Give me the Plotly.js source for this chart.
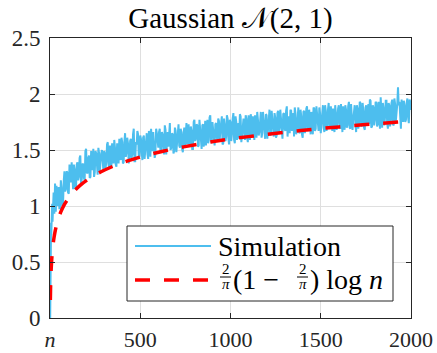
<!DOCTYPE html>
<html><head><meta charset="utf-8">
<script src="https://cdn.plot.ly/plotly-3.0.1.min.js"></script>
<style>html,body{margin:0;padding:0;background:#fff}</style>
</head><body><div id="chart" style="width:437px;height:353px"></div>
<script>
// ---- data ----
const nEarly = [1,2,3,4,5,6,7,8,10,12,14,16,18,20,24,28,32,36,40];
const simEarly = [0.00,0.42,0.55,0.78,0.62,0.85,0.74,0.92,0.80,1.02,0.86,1.08,0.90,1.12,0.93,1.20,0.95,1.18,1.00];
const nStart = 48, nStep = 8, nHalf = 4;   // regular n grid after the early points
// values at n = 48, 56, 64, ... 2000
const simValues = [
  1.17,0.98,1.16,1.01,1.31,1.15,1.30,1.11,1.26,1.39,
  1.15,1.33,1.15,1.39,1.26,1.45,1.24,1.37,1.23,1.51,
  1.29,1.45,1.26,1.40,1.51,1.30,1.47,1.28,1.47,1.42,
  1.50,1.31,1.47,1.39,1.57,1.34,1.47,1.56,1.38,1.52,
  1.35,1.51,1.60,1.41,1.57,1.39,1.65,1.48,1.56,1.42,
  1.60,1.46,1.69,1.40,1.55,1.64,1.45,1.60,1.41,1.63,
  1.51,1.65,1.42,1.60,1.69,1.49,1.58,1.46,1.65,1.52,
  1.69,1.49,1.64,1.46,1.68,1.60,1.53,1.74,1.52,1.64,
  1.49,1.67,1.58,1.73,1.52,1.66,1.48,1.70,1.64,1.55,
  1.73,1.56,1.67,1.51,1.77,1.60,1.72,1.54,1.70,1.51,
  1.73,1.65,1.54,1.77,1.59,1.81,1.56,1.68,1.54,1.74,
  1.58,1.76,1.64,1.80,1.56,1.72,1.62,1.78,1.55,1.75,
  1.64,1.83,1.56,1.75,1.70,1.60,1.80,1.63,1.78,1.59,
  1.78,1.57,1.74,1.82,1.62,1.70,1.81,1.61,1.77,1.66,
  1.84,1.65,1.74,1.60,1.81,1.69,1.86,1.64,1.78,1.62,
  1.79,1.63,1.85,1.69,1.76,1.60,1.83,1.67,1.89,1.72,
  1.65,1.85,1.73,1.62,1.83,1.69,1.88,1.65,1.80,1.61,
  1.85,1.70,1.89,1.67,1.78,1.84,1.64,1.87,1.69,1.80,
  1.67,1.83,1.74,1.90,1.66,1.85,1.71,1.92,1.69,1.81,
  1.87,1.66,1.83,1.74,1.90,1.69,1.80,1.89,1.68,1.86,
  1.72,1.93,1.69,1.83,1.77,1.90,1.66,1.87,1.74,1.92,
  1.71,1.85,1.68,1.90,1.81,1.73,1.94,1.71,1.88,1.77,
  1.92,1.73,1.85,1.97,1.70,1.87,1.79,1.94,1.69,1.90,
  1.77,1.95,1.72,1.91,1.82,2.06,1.93,1.69,1.88,1.94,
  1.75,1.92,1.79,1.95,1.86
];
// values at n = 52, 60, 68, ... 1996
const simValuesMid = [
  0.98,1.23,1.01,1.22,1.13,1.31,1.12,1.37,1.21,1.18,
  1.37,1.16,1.37,1.23,1.43,1.20,1.38,1.25,1.49,1.30,
  1.43,1.25,1.49,1.32,1.26,1.49,1.32,1.52,1.31,1.47,
  1.31,1.49,1.34,1.55,1.37,1.54,1.34,1.48,1.59,1.37,
  1.56,1.38,1.53,1.61,1.38,1.57,1.44,1.61,1.38,1.58,
  1.43,1.64,1.40,1.57,1.67,1.43,1.63,1.48,1.61,1.42,
  1.61,1.46,1.67,1.44,1.59,1.66,1.43,1.69,1.53,1.66,
  1.48,1.66,1.53,1.72,1.46,1.66,1.70,1.50,1.65,1.47,
  1.70,1.48,1.73,1.54,1.69,1.51,1.65,1.53,1.74,1.68,
  1.53,1.71,1.51,1.75,1.58,1.73,1.53,1.77,1.57,1.72,
  1.53,1.76,1.69,1.56,1.79,1.59,1.75,1.54,1.73,1.62,
  1.78,1.59,1.74,1.55,1.78,1.58,1.81,1.61,1.77,1.58,
  1.78,1.59,1.80,1.59,1.74,1.82,1.57,1.77,1.65,1.81,
  1.61,1.81,1.59,1.77,1.80,1.59,1.76,1.84,1.63,1.80,
  1.61,1.84,1.68,1.82,1.60,1.80,1.63,1.85,1.67,1.83,
  1.61,1.83,1.66,1.86,1.63,1.82,1.69,1.85,1.62,1.80,
  1.86,1.67,1.83,1.88,1.64,1.83,1.66,1.86,1.64,1.84,
  1.65,1.87,1.68,1.86,1.64,1.73,1.88,1.67,1.89,1.70,
  1.88,1.65,1.87,1.70,1.90,1.67,1.86,1.72,1.89,1.67,
  1.72,1.90,1.68,1.87,1.71,1.91,1.66,1.74,1.90,1.70,
  1.89,1.70,1.91,1.68,1.87,1.74,1.90,1.69,1.93,1.72,
  1.92,1.70,1.88,1.74,1.91,1.95,1.70,1.90,1.72,1.93,
  1.71,1.93,1.69,1.88,1.92,1.72,1.94,1.74,1.92,1.71,
  1.92,1.73,1.96,1.76,1.91,1.90,1.71,1.95,1.75,1.90,
  1.77,1.96,1.74,1.93,1.87
];
const nTheory = [2,3,4,6,8,11,15,20,27,35,45,60,80,100,130,170,220,280,350,430,520,620,740,870,1000,1150,1300,1450,1600,1800,2000];
const theoryValues = [0.160,0.254,0.321,0.414,0.481,0.555,0.626,0.693,0.762,0.822,0.880,0.947,1.014,1.065,1.126,1.188,1.247,1.303,1.355,1.403,1.447,1.487,1.528,1.566,1.598,1.630,1.659,1.684,1.706,1.734,1.758];
const xTickVals = [0,500,1000,1500,2000];
const xTickText = ['<i>n</i>','500','1000','1500','2000'];
const yTickVals = [0,0.5,1,1.5,2,2.5];
const yTickText = ['0','0.5','1','1.5','2','2.5'];
const titleText = 'Gaussian 𝒩(2, 1)';
const legendSimLabel = 'Simulation';

// ---- build ----
const nSim = nEarly.slice(), ySim = simEarly.slice();
simValues.forEach((v, i) => {
  nSim.push(nStart + i * nStep); ySim.push(v);
  if (i < simValuesMid.length) { nSim.push(nStart + i * nStep + nHalf); ySim.push(simValuesMid[i]); }
});
const FONT = 'Liberation Serif, serif';
const BLUE = '#4DBEEE', RED = '#FF0000', AX = '#262626';
const L = 50, R = 411, T = 38, B = 318;
const px = x => (x - L) / (R - L);
const py = y => (B - y) / (B - T);

const traces = [
  {x: nSim, y: ySim, type: 'scatter', mode: 'lines', line: {color: BLUE, width: 2}, name: legendSimLabel, showlegend: false},
  {x: nTheory, y: theoryValues, type: 'scatter', mode: 'lines', line: {color: RED, width: 3.5, dash: '15px,14px', shape: 'spline'}, name: 'theory', showlegend: false}
];

function txt(x, y, text, size, anchor) {
  return {xref: 'paper', yref: 'paper', x: px(x), y: py(y), text: text, showarrow: false,
    xanchor: anchor || 'left', yanchor: 'middle', font: {family: FONT, size: size, color: '#000'}};
}
function seg(x0, x1, y, color, width, dash) {
  return {type: 'line', xref: 'paper', yref: 'paper', x0: px(x0), x1: px(x1), y0: py(y), y1: py(y),
    layer: 'above', line: {color: color, width: width, dash: dash || 'solid'}};
}

const layout = {
  width: 437, height: 353,
  margin: {l: L, r: 437 - R, t: T, b: 353 - B, pad: 0},
  paper_bgcolor: '#fff', plot_bgcolor: '#fff',
  showlegend: false,
  font: {family: FONT},
  title: {text: titleText, font: {family: FONT, size: 29, color: '#000'}, x: px(230.5), xref: 'paper', xanchor: 'center', y: 1 - 18 / 353, yref: 'container', yanchor: 'middle'},
  xaxis: {range: [0, 2000], tickvals: xTickVals, ticktext: xTickText, ticks: 'inside', ticklen: 5, tickcolor: AX, tickwidth: 1,
    showline: true, linecolor: AX, linewidth: 1, mirror: 'ticks', showgrid: true, gridcolor: '#dfdfdf', gridwidth: 1, zeroline: false,
    tickfont: {family: FONT, size: 22, color: AX}, ticklabelstandoff: 2},
  yaxis: {range: [0, 2.5], tickvals: yTickVals, ticktext: yTickText, ticks: 'inside', ticklen: 5, tickcolor: AX, tickwidth: 1,
    showline: true, linecolor: AX, linewidth: 1, mirror: 'ticks', showgrid: true, gridcolor: '#dfdfdf', gridwidth: 1, zeroline: false,
    tickfont: {family: FONT, size: 23, color: AX}, ticklabelstandoff: 4},
  shapes: [
    {type: 'rect', xref: 'paper', yref: 'paper', x0: px(127), x1: px(393), y0: py(301), y1: py(226), layer: 'above',
      fillcolor: '#fff', line: {color: AX, width: 1}},
    seg(135, 211, 246, BLUE, 2),
    seg(135, 211, 280, RED, 3.5, '15px,14px'),
    seg(220, 231, 277, '#000', 1),
    seg(297, 308, 277, '#000', 1)
  ],
  annotations: [
    txt(216, 246, legendSimLabel, 28),
    txt(225.5, 269, '2', 15, 'center'),
    txt(225.5, 284, '<i>π</i>', 15, 'center'),
    txt(231, 279, '(1 − ', 28),
    txt(302.5, 269, '2', 15, 'center'),
    txt(302.5, 284, '<i>π</i>', 15, 'center'),
    txt(308, 279, ') log <i>n</i>', 28)
  ]
};
Plotly.newPlot('chart', traces, layout, {staticPlot: true, displayModeBar: false});
</script></body></html>
